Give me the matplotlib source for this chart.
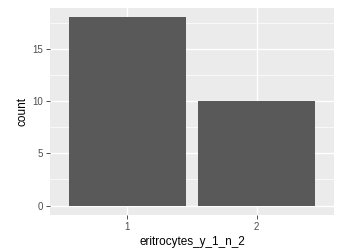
import matplotlib
matplotlib.use("Agg")
import matplotlib.pyplot as plt

plt.rcParams['font.family'] = ['Liberation Sans', 'DejaVu Sans']

categories = ["1", "2"]
counts = [18, 10]

fig = plt.figure(figsize=(3.39, 2.48), dpi=100)
ax = fig.add_axes([0.1475, 0.133, 0.838, 0.835])
ax.set_facecolor("#EBEBEB")

pos = [1, 2]
ax.bar(pos, counts, width=0.9, color="#595959", zorder=3)

ax.set_xlim(0.4, 2.6)
ax.set_ylim(-0.9, 18.9)
ax.set_xticks(pos)
ax.set_xticklabels(categories)
ax.set_yticks([0, 5, 10, 15])
ax.set_yticks([2.5, 7.5, 12.5, 17.5], minor=True)

ax.grid(which="major", color="white", linewidth=1.0, zorder=1)
ax.grid(which="minor", axis="y", color="white", linewidth=0.5, zorder=1)
ax.tick_params(which="major", length=3, width=0.6, color="#333333",
               labelsize=7, labelcolor="#4D4D4D", pad=2)
ax.tick_params(which="minor", length=0)
for s in ax.spines.values():
    s.set_visible(False)

ax.set_xlabel("eritrocytes_y_1_n_2", fontsize=8.5, labelpad=3)
ax.set_ylabel("count", fontsize=8.5, labelpad=3)

fig.savefig("out.png", dpi=100)
